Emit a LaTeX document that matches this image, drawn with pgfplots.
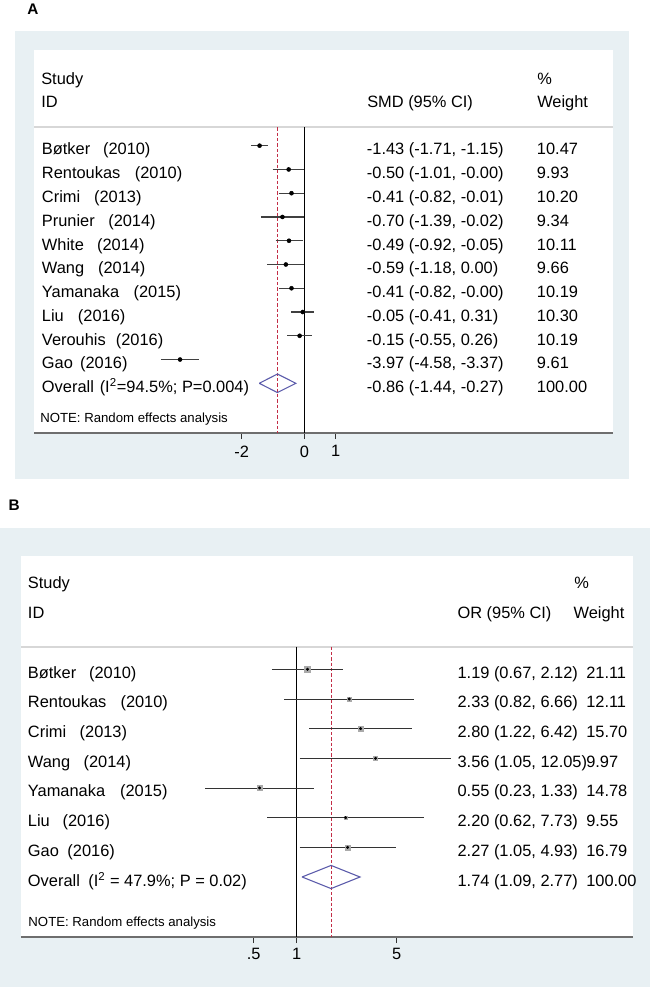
\documentclass[border=0pt]{standalone}
\usepackage{pgfplots}
\pgfplotsset{compat=1.18}
\usepackage{pgfplotstable}
\usepackage{fontspec}
\setmainfont{Liberation Sans}
\definecolor{bgblue}{RGB}{232,240,243}
\definecolor{sepgray}{RGB}{215,215,215}
\definecolor{axgray}{RGB}{110,110,110}
\definecolor{dashred}{RGB}{195,45,70}
\definecolor{diam}{RGB}{90,90,170}
\definecolor{boxgray}{RGB}{170,170,170}
\newcommand{\fs}{\fontsize{12.3}{14}\selectfont}
\newcommand{\fn}{\fontsize{9.9}{12}\selectfont}

% Panel A: SMD
\pgfplotstableread{
row est lo hi w
1 -1.43 -1.71 -1.15 10.47
2 -0.50 -1.01 -0.00 9.93
3 -0.41 -0.82 -0.01 10.20
4 -0.70 -1.39 -0.02 9.34
5 -0.49 -0.92 -0.05 10.11
6 -0.59 -1.18 0.00 9.66
7 -0.41 -0.82 -0.00 10.19
8 -0.05 -0.41 0.31 10.30
9 -0.15 -0.55 0.26 10.19
10 -3.97 -4.58 -3.37 9.61
}\dataA
% Panel B: OR
\pgfplotstableread{
row est lo hi w
1 1.19 0.67 2.12 21.11
2 2.33 0.82 6.66 12.11
3 2.80 1.22 6.42 15.70
4 3.56 1.05 12.05 9.97
5 0.55 0.23 1.33 14.78
6 2.20 0.62 7.73 9.55
7 2.27 1.05 4.93 16.79
}\dataB

\begin{document}
\begin{tikzpicture}[x=0.75pt,y=-0.75pt]
\useasboundingbox (0,0) rectangle (650,987);
\fill[white] (0,0) rectangle (650,987);

%================ Panel A =================
\fill[bgblue] (14.5,31) rectangle (628.6,479);
\fill[white] (34.4,50) rectangle (613.3,433);
\node[anchor=base west, inner sep=0, font=\fontsize{11.5}{13}\selectfont\bfseries] at (27,15) {A};
\draw[sepgray, line width=1.2pt] (34.4,127.3) -- (613.3,127.3);

\begin{axis}[
  at={(25.8pt,-324.75pt)}, anchor=south west,
  scale only axis, width=434.2pt, height=229.28pt,
  xmin=-8.623, xmax=9.872, ymin=-13.092, ymax=-0.2256,
  axis x line=bottom, axis y line=none,
  x axis line style={-, draw=axgray, line width=1.5pt},
  xtick={-2,0,1}, xticklabels={-2,0,1},
  tick align=outside, major tick length=4.5pt,
  x tick style={draw=black!80, line width=0.6pt},
  xticklabel style={font=\fs, yshift=-1.5pt},
  clip=false, unbounded coords=jump,
]
\addplot[black, line width=0.75pt] coordinates {(0,-0.2256) (0,-13.092)};
\addplot[dashred, line width=0.8pt, dash pattern=on 2.5pt off 1.5pt] coordinates {(-0.86,-0.2256) (-0.86,-13.092)};
\addplot[black!75, line width=0.9pt] table[row sep=\\] {
x y\\ -1.71 -1\\ -1.15 -1\\ nan nan\\
-1.01 -2\\ -0.00 -2\\ nan nan\\
-0.82 -3\\ -0.01 -3\\ nan nan\\
-1.39 -4\\ -0.02 -4\\ nan nan\\
-0.92 -5\\ -0.05 -5\\ nan nan\\
-1.18 -6\\ 0.00 -6\\ nan nan\\
-0.82 -7\\ -0.00 -7\\ nan nan\\
-0.41 -8\\ 0.31 -8\\ nan nan\\
-0.55 -9\\ 0.26 -9\\ nan nan\\
-4.58 -10\\ -3.37 -10\\
};
\addplot[only marks, mark=*, mark size=1.5pt, black] table[x=est, y expr=-\thisrow{row}] {\dataA};
\addplot[diam, line width=0.8pt] coordinates {(-1.44,-11) (-0.86,-10.61) (-0.27,-11) (-0.86,-11.39) (-1.44,-11)};
\end{axis}

\begin{scope}[every node/.style={anchor=base west, inner sep=0, font=\fs}]
\node at (41,84.2) {Study};
\node at (41,107.5) {ID};
\node at (367,107.5) {SMD (95\% CI)};
\node at (537,84.2) {\%};
\node at (537,107.5) {Weight};
\node at (41.7,155.0) {Bøtker\hspace{9.6pt}(2010)};
\node at (41.7,178.76) {Rentoukas\hspace{10.9pt}(2010)};
\node at (41.7,202.52) {Crimi\hspace{10.4pt}(2013)};
\node at (41.7,226.28) {Prunier\hspace{10.1pt}(2014)};
\node at (41.7,250.04) {White\hspace{9.9pt}(2014)};
\node at (41.7,273.8) {Wang\hspace{10.4pt}(2014)};
\node at (41.7,297.56) {Yamanaka\hspace{10.9pt}(2015)};
\node at (41.7,321.32) {Liu\hspace{10.6pt}(2016)};
\node at (41.7,345.08) {Verouhis\hspace{7.6pt}(2016)};
\node at (41.7,368.84) {Gao\hspace{5.4pt}(2016)};
\node at (41.7,392.6) {Overall\hspace{4.4pt}(I\textsuperscript{2}=94.5\%; P=0.004)};
\node at (366.7,155.0) {-1.43 (-1.71, -1.15)};
\node at (366.7,178.76) {-0.50 (-1.01, -0.00)};
\node at (366.7,202.52) {-0.41 (-0.82, -0.01)};
\node at (366.7,226.28) {-0.70 (-1.39, -0.02)};
\node at (366.7,250.04) {-0.49 (-0.92, -0.05)};
\node at (366.7,273.8) {-0.59 (-1.18, 0.00)};
\node at (366.7,297.56) {-0.41 (-0.82, -0.00)};
\node at (366.7,321.32) {-0.05 (-0.41, 0.31)};
\node at (366.7,345.08) {-0.15 (-0.55, 0.26)};
\node at (366.7,368.84) {-3.97 (-4.58, -3.37)};
\node at (366.7,392.6) {-0.86 (-1.44, -0.27)};
\node at (536.7,155.0) {10.47};
\node at (536.7,178.76) {9.93};
\node at (536.7,202.52) {10.20};
\node at (536.7,226.28) {9.34};
\node at (536.7,250.04) {10.11};
\node at (536.7,273.8) {9.66};
\node at (536.7,297.56) {10.19};
\node at (536.7,321.32) {10.30};
\node at (536.7,345.08) {10.19};
\node at (536.7,368.84) {9.61};
\node at (536.7,392.6) {100.00};
\node[font=\fn] at (40,422) {NOTE: Random effects analysis};
\end{scope}

%================ Panel B =================
\node[anchor=base west, inner sep=0, font=\fontsize{11.5}{13}\selectfont\bfseries] at (8.3,510) {B};
\fill[bgblue] (0,528) rectangle (650,987);
\fill[white] (21,556) rectangle (633,937);
\draw[sepgray, line width=1.2pt] (21,646.7) -- (633,646.7);

\begin{axis}[
  at={(15.75pt,-702.75pt)}, anchor=south west,
  scale only axis, width=459pt, height=217.73pt,
  xmode=log, xmin=0.0118, xmax=224.9, ymin=-10.023, ymax=-0.2383,
  axis x line=bottom, axis y line=none,
  x axis line style={-, draw=axgray, line width=1.5pt},
  xtick={0.5,1,5}, xticklabels={.5,1,5}, xminorticks=false,
  tick align=outside, major tick length=4.5pt,
  x tick style={draw=black!80, line width=0.6pt},
  xticklabel style={font=\fs},
  clip=false, unbounded coords=jump,
]
\addplot[black, line width=0.75pt] coordinates {(1,-0.2383) (1,-10.023)};
\addplot[dashred, line width=0.8pt, dash pattern=on 2.5pt off 1.5pt] coordinates {(1.74,-0.2383) (1.74,-10.023)};
\addplot[black!80, line width=0.6pt] table[row sep=\\] {
x y\\ 0.67 -1\\ 2.12 -1\\ nan nan\\
0.82 -2\\ 6.66 -2\\ nan nan\\
1.22 -3\\ 6.42 -3\\ nan nan\\
1.05 -4\\ 12.05 -4\\ nan nan\\
0.23 -5\\ 1.33 -5\\ nan nan\\
0.62 -6\\ 7.73 -6\\ nan nan\\
1.05 -7\\ 4.93 -7\\
};
\addplot[scatter, only marks, mark=square*,
  mark options={draw=boxgray, fill=boxgray},
  scatter/use mapped color={draw=boxgray, fill=boxgray},
  visualization depends on={sqrt(\thisrow{w})*0.45 \as \msz},
  scatter/@pre marker code/.append style={/tikz/mark size=\msz pt}]
  table[x=est, y expr=-\thisrow{row}] {\dataB};
\addplot[only marks, mark=*, mark size=0.9pt, black] table[x=est, y expr=-\thisrow{row}] {\dataB};
\addplot[diam, line width=0.8pt] coordinates {(1.09,-8) (1.74,-7.61) (2.77,-8) (1.74,-8.39) (1.09,-8)};
\end{axis}

\begin{scope}[every node/.style={anchor=base west, inner sep=0, font=\fs}]
\node at (27.7,588.3) {Study};
\node at (27.7,618.3) {ID};
\node at (457.3,618.3) {OR (95\% CI)};
\node at (574,588.3) {\%};
\node at (573.3,618.3) {Weight};
\node at (27.7,678.3) {Bøtker\hspace{9.6pt}(2010)};
\node at (27.7,707.97) {Rentoukas\hspace{10.65pt}(2010)};
\node at (27.7,737.64) {Crimi\hspace{10.1pt}(2013)};
\node at (27.7,767.31) {Wang\hspace{10.1pt}(2014)};
\node at (27.7,796.98) {Yamanaka\hspace{11.2pt}(2015)};
\node at (27.7,826.65) {Liu\hspace{9.6pt}(2016)};
\node at (27.7,856.32) {Gao\hspace{6.4pt}(2016)};
\node at (27.7,885.99) {Overall\hspace{6.4pt}(I\textsuperscript{2} = 47.9\%; P = 0.02)};
\node at (457.3,678.3) {1.19 (0.67, 2.12)};
\node at (457.3,707.97) {2.33 (0.82, 6.66)};
\node at (457.3,737.64) {2.80 (1.22, 6.42)};
\node at (457.3,767.31) {3.56 (1.05, 12.05)};
\node at (457.3,796.98) {0.55 (0.23, 1.33)};
\node at (457.3,826.65) {2.20 (0.62, 7.73)};
\node at (457.3,856.32) {2.27 (1.05, 4.93)};
\node at (457.3,885.99) {1.74 (1.09, 2.77)};
\node at (586,678.3) {21.11};
\node at (586,707.97) {12.11};
\node at (586,737.64) {15.70};
\node at (586,767.31) {9.97};
\node at (586,796.98) {14.78};
\node at (586,826.65) {9.55};
\node at (586,856.32) {16.79};
\node at (586,885.99) {100.00};
\node[font=\fn] at (28.2,926.7) {NOTE: Random effects analysis};
\end{scope}
\end{tikzpicture}
\end{document}
